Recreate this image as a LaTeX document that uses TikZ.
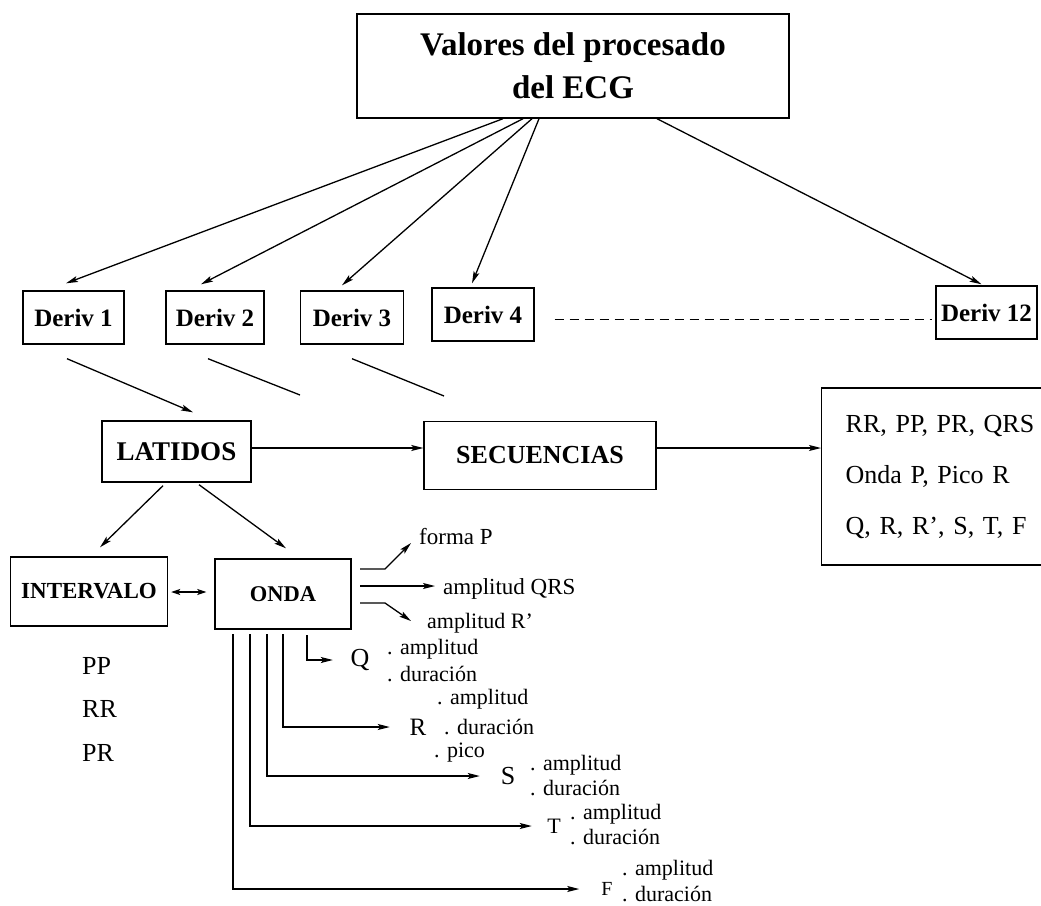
\documentclass[tikz,border=0pt]{standalone}
\usepackage{fontspec}
\setmainfont{Liberation Serif}
\usetikzlibrary{arrows.meta,calc}
\begin{document}
\begin{tikzpicture}[x=1pt,y=-1pt,
  box/.style={draw,line width=1.4pt,inner sep=0pt,align=center},
  arr/.style={line width=1.3pt,-{Stealth[length=12pt,width=6pt,inset=2.5pt]}},
  ln/.style={line width=1.3pt},
  dv/.style={font=\bfseries\fontsize{25}{27}\selectfont},
  lbl/.style={inner sep=0pt,anchor=west,font=\fontsize{23}{25}\selectfont},
  sub/.style={inner sep=0pt,anchor=west,font=\fontsize{22}{24}\selectfont},
  big/.style={inner sep=0pt}]
\useasboundingbox (0,0) rectangle (1041,905);

% title
\node[box,minimum width=432pt,minimum height=104pt,font=\bfseries\fontsize{33}{43}\selectfont] (title) at (573,66) {Valores del procesado\\del ECG};

% derivations
\node[box,dv,minimum width=101pt,minimum height=53pt] (d1) at (73.5,317.5) {Deriv 1};
\node[box,dv,minimum width=98pt,minimum height=53pt] (d2) at (215,317.5) {Deriv 2};
\node[box,dv,minimum width=103pt,minimum height=53pt] (d3) at (352,317.5) {Deriv 3};
\node[box,dv,minimum width=102pt,minimum height=53pt] (d4) at (483,314.5) {Deriv 4};
\node[box,dv,minimum width=101pt,minimum height=53pt] (d12) at (986.5,312.5) {Deriv 12};

\draw[arr] ($(title.south)+(-70,0)$) -- ($(d1.north)+(-7.5,-7)$);
\draw[arr] ($(title.south)+(-50,0)$) -- ($(d2.north)+(-14,-6)$);
\draw[arr] ($(title.south)+(-41,0)$) -- ($(d3.north)+(-10,-5)$);
\draw[arr] ($(title.south)+(-34,0)$) -- ($(d4.north)+(-11,-4)$);
\draw[arr] ($(title.south)+(84,0)$) -- ($(d12.north)+(-5,-1)$);
\draw[line width=1.2pt,dash pattern=on 9pt off 6pt] ($(d4.east)+(20,5)$) -- ($(d12.west)+(-3,7)$);

% middle row
\node[box,font=\bfseries\fontsize{27}{29}\selectfont,minimum width=149pt,minimum height=61pt] (lat) at (176.5,451.5) {LATIDOS};
\node[box,font=\bfseries\fontsize{26}{28}\selectfont,minimum width=232pt,minimum height=68pt] (sec) at (540,455.5) {SECUENCIAS};
\node[box,anchor=west,minimum width=238pt,minimum height=177pt,text width=190pt,align=left,font=\fontsize{26}{51}\selectfont] (res) at (821,476.5) {\frenchspacing RR, PP, PR, QRS\\Onda P, Pico R\\Q, R, R’, S, T, F};

\coordinate (e2) at (300,395);
\coordinate (e3) at (444,396);
\draw[arr] ($(d1.south)+(-6.5,14)$) -- ($(lat.north)+(16.5,-8)$);
\draw[ln] ($(d2.south)+(-7,14)$) -- (e2);
\draw[ln] ($(d3.south)+(0,14)$) -- (e3);

\draw[arr] (lat.east |- 0,448) -- (sec.west |- 0,448);
\draw[arr] (sec.east |- 0,448) -- (res.west |- 0,448);

% lower row
\node[box,font=\bfseries\fontsize{23}{25}\selectfont,minimum width=157pt,minimum height=69pt] (int) at (89,591.5) {INTERVALO};
\node[box,font=\bfseries\fontsize{22.5}{25}\selectfont,minimum width=136pt,minimum height=70pt] (onda) at (283,594) {ONDA};

\draw[arr] ($(lat.south)+(-13.5,3)$) -- ($(int.north)+(11,-9)$);
\draw[arr] ($(lat.south)+(22.5,2)$) -- ($(onda.north)+(3,-10)$);
\draw[line width=1.3pt,{Stealth[length=9pt,width=6pt,inset=2pt]}-{Stealth[length=9pt,width=6pt,inset=2pt]},shorten <=3pt,shorten >=8pt] (int.east |- 0,592) -- (onda.west |- 0,592);

\node[inner sep=0pt,anchor=west,align=left,font=\fontsize{26}{43.5}\selectfont] (ints) at (82,709) {PP\\RR\\PR};

% ONDA side outputs
\node[lbl] (fp) at (419,537) {forma P};
\node[lbl] (aq) at (443,589) {amplitud QRS};
\node[lbl,font=\fontsize{22}{24}\selectfont] (ar) at (427,623) {amplitud R’};
\coordinate (fp0) at (360,569);
\coordinate (fp1) at (411,543);
\coordinate (aq0) at (360,586);
\coordinate (ar0) at (360,603);
\coordinate (ar1) at (411,621);
\draw[arr] (fp0) -- ++(25,0) -- (fp1);
\draw[arr] (aq0) -- ([xshift=-8pt]aq.west |- aq0);
\draw[arr] (ar0) -- ++(25,0) -- (ar1);

% ONDA bottom outputs
\node[big,font=\fontsize{26}{28}\selectfont] (Q) at (360,660) {Q};
\node[sub] at (387,649) {. amplitud};
\node[sub] at (387,674) {. duración};

\node[big,font=\fontsize{25}{27}\selectfont] (R) at (418,727) {R};
\node[sub] at (437,699) {. amplitud};
\node[sub] at (444,727) {. duración};
\node[sub] at (434,753) {. pico};

\node[big,font=\fontsize{26}{28}\selectfont] (S) at (508,776) {S};
\node[sub] at (530,765) {. amplitud};
\node[sub] at (530,788) {. duración};

\node[big,font=\fontsize{22}{24}\selectfont] (T) at (554,826) {T};
\node[sub] at (570,814) {. amplitud};
\node[sub] at (570,837) {. duración};

\node[big,font=\fontsize{20}{22}\selectfont] (F) at (607,889) {F};
\node[sub] at (622,870) {. amplitud};
\node[sub] at (622,894) {. duración};

\coordinate (oQ) at (307,635);
\coordinate (oR) at (283,634);
\coordinate (oS) at (267,634);
\coordinate (oT) at (250,634);
\coordinate (oF) at (233,634);
\draw[arr] (oQ) |- ([xshift=-17.6pt]Q.west);
\draw[arr] (oR) |- ([xshift=-19.7pt]R.west);
\draw[arr] (oS) |- ([xshift=-20.8pt]S.west);
\draw[arr] (oT) |- ([xshift=-15.3pt]T.west);
\draw[arr] (oF) |- ([xshift=-22pt]F.west);
\end{tikzpicture}
\end{document}
